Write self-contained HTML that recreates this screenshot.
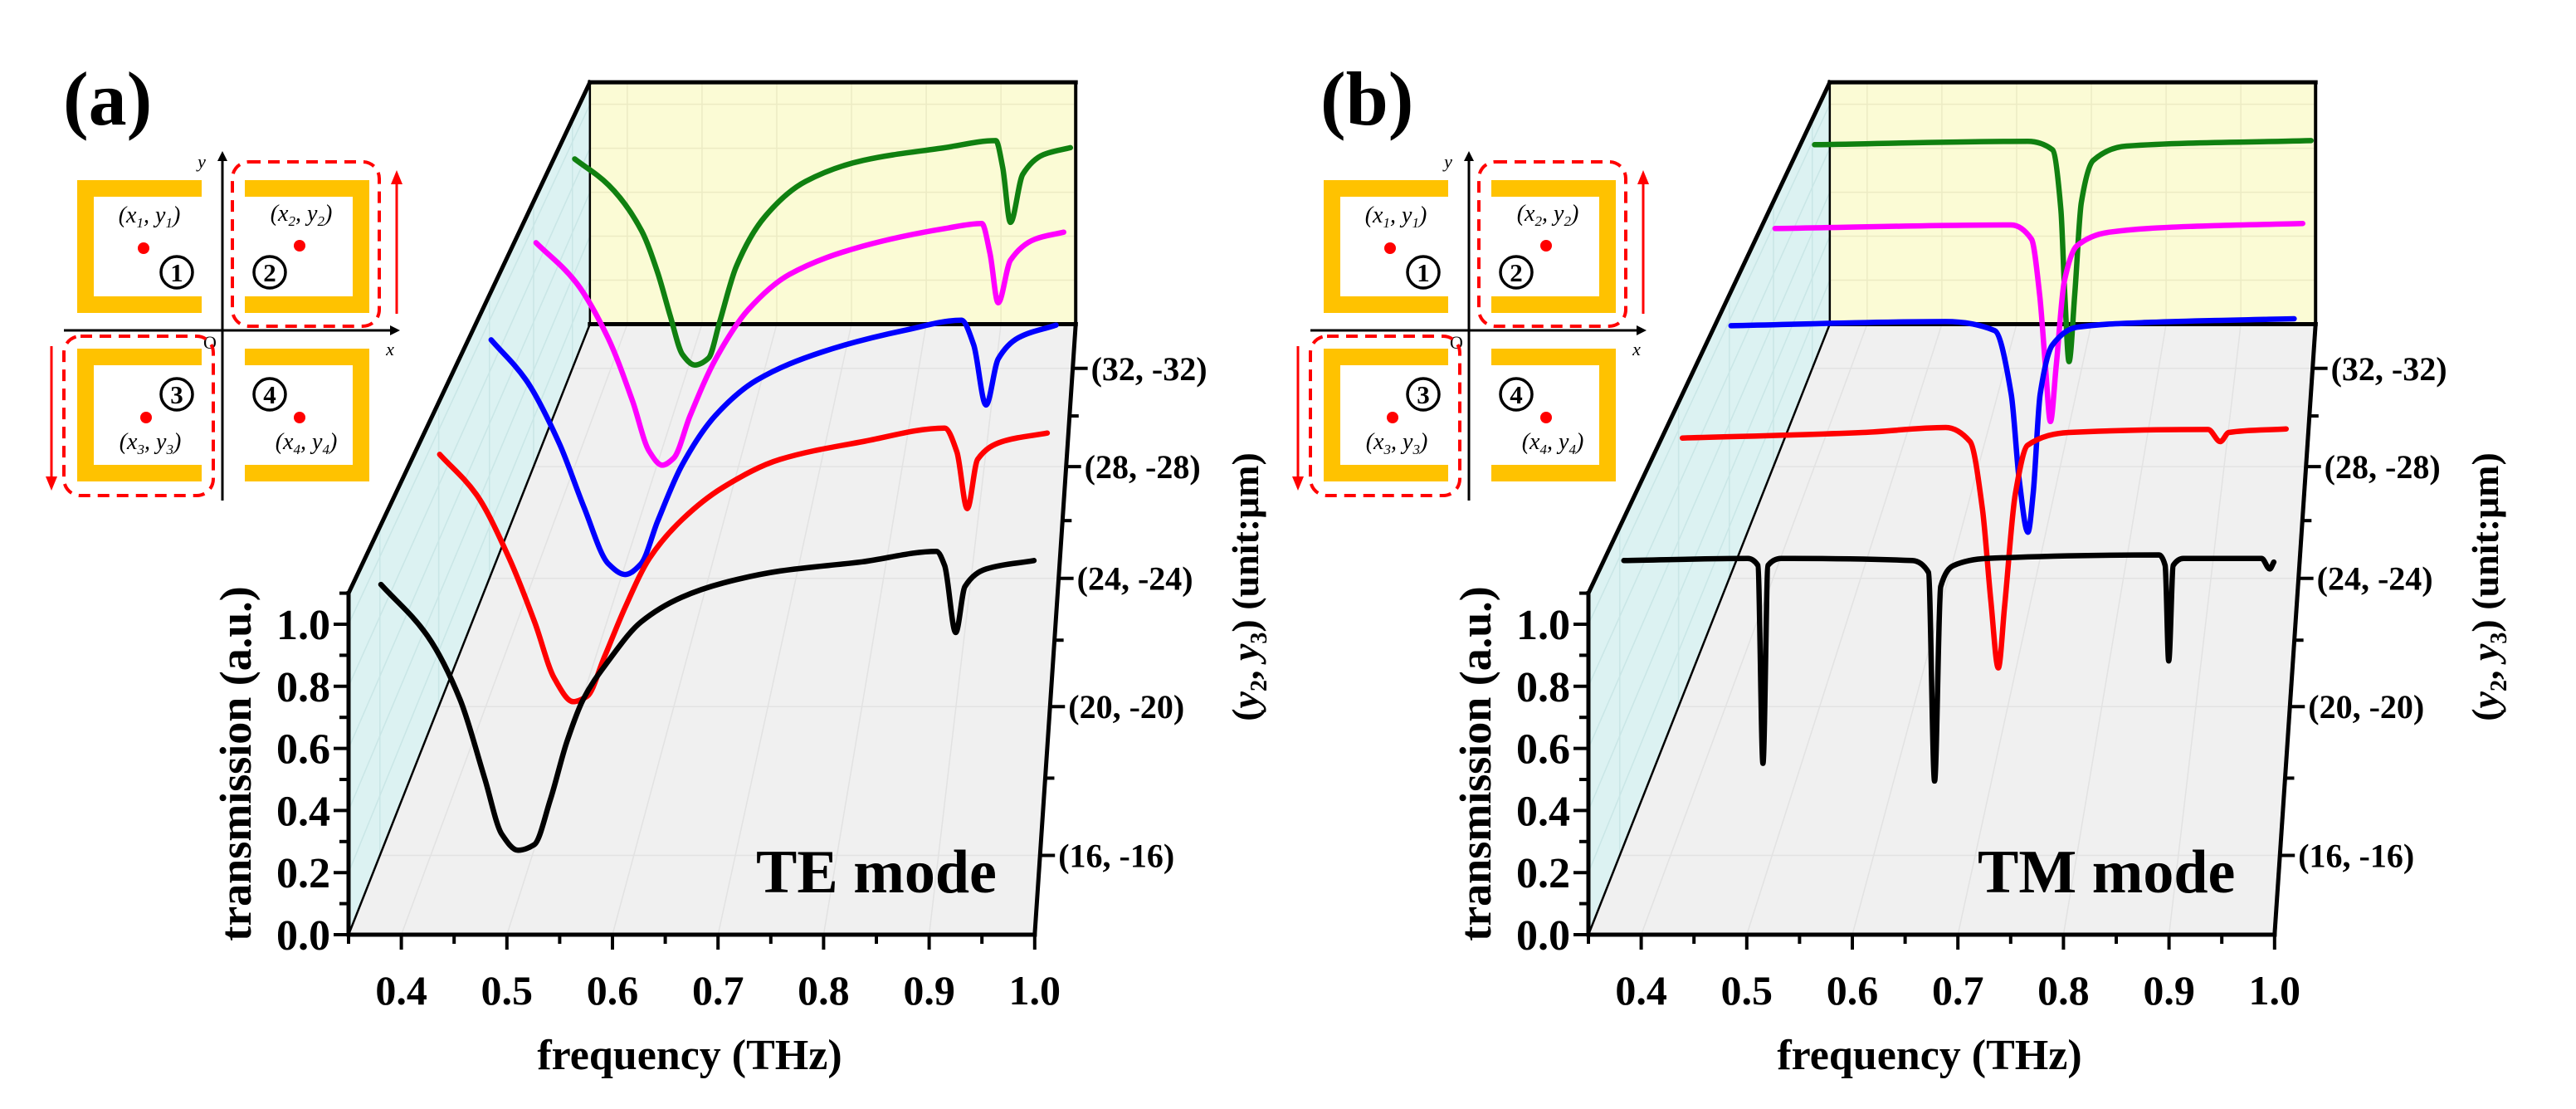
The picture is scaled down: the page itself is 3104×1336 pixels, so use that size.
<!DOCTYPE html>
<html>
<head>
<meta charset="utf-8">
<style>
html,body{margin:0;padding:0;background:#fff;}
svg{display:block;}
text{font-family:"Liberation Serif",serif;}
</style>
</head>
<body>
<svg id="fig" xmlns="http://www.w3.org/2000/svg" width="3104" height="1336" viewBox="0 0 3104 1336"></svg>
<script>
// ---------- data ----------
const depths = [16, 20, 24, 28, 32];
const depthLabels = ["(16, -16)", "(20, -20)", "(24, -24)", "(28, -28)", "(32, -32)"];
const freqTicks = [0.4, 0.5, 0.6, 0.7, 0.8, 0.9, 1.0];
const freqTickLabels = ["0.4", "0.5", "0.6", "0.7", "0.8", "0.9", "1.0"];
const transTicks = [0.0, 0.2, 0.4, 0.6, 0.8, 1.0];
const transTickLabels = ["0.0", "0.2", "0.4", "0.6", "0.8", "1.0"];

// TE mode (panel a)
const teBlackF = [0.351,0.397,0.429,0.453,0.470,0.486,0.502,0.518,0.534,0.550,0.575,0.607,0.647,0.688,0.744,0.825,0.898,0.906,0.917,0.926,0.947,0.994];
const teBlackT = [0.907,0.734,0.521,0.260,0.071,0.017,0.036,0.189,0.379,0.521,0.651,0.781,0.864,0.912,0.952,0.983,1.018,0.971,0.746,0.900,0.959,0.987];
const teRedF = [0.351,0.390,0.425,0.452,0.473,0.493,0.508,0.526,0.548,0.574,0.609,0.652,0.713,0.801,0.888,0.901,0.912,0.923,0.949,0.997];
const teRedT = [0.912,0.767,0.536,0.306,0.102,0.018,0.038,0.178,0.357,0.536,0.677,0.792,0.894,0.958,1.007,0.920,0.716,0.894,0.958,0.989];
const teBlueF = [0.352,0.392,0.430,0.458,0.486,0.505,0.523,0.542,0.570,0.608,0.655,0.730,0.823,0.889,0.903,0.917,0.931,0.954,0.997];
const teBlueT = [0.926,0.769,0.522,0.276,0.056,0.015,0.056,0.221,0.440,0.632,0.769,0.879,0.962,1.002,0.906,0.673,0.852,0.934,0.983];
const teMagentaF = [0.353,0.401,0.441,0.471,0.491,0.507,0.521,0.541,0.572,0.612,0.662,0.752,0.852,0.897,0.907,0.917,0.932,0.962,0.997];
const teMagentaT = [0.929,0.768,0.533,0.270,0.064,0.006,0.035,0.211,0.445,0.651,0.797,0.915,0.988,1.009,0.885,0.680,0.856,0.944,0.973];
const teGreenF = [0.353,0.397,0.440,0.461,0.477,0.493,0.509,0.527,0.541,0.563,0.600,0.653,0.728,0.834,0.900,0.909,0.919,0.935,0.962,0.997];
const teGreenT = [0.925,0.810,0.607,0.420,0.233,0.061,0.015,0.046,0.202,0.451,0.670,0.826,0.919,0.975,1.006,0.888,0.645,0.857,0.944,0.975];

// TM mode (panel b)
const tmBlackF = [0.354,0.476,0.486,0.491,0.496,0.509,0.638,0.654,0.660,0.666,0.679,0.711,0.881,0.887,0.8905,0.895,0.905,0.982,0.990,0.994];
const tmBlackT = [0.987,0.994,0.971,0.308,0.971,0.994,0.987,0.947,0.249,0.900,0.971,0.994,1.006,0.971,0.651,0.971,0.994,0.994,0.959,0.982];
const tmRedF = [0.354,0.546,0.634,0.660,0.673,0.682,0.690,0.6965,0.708,0.721,0.765,0.913,0.926,0.935,0.996];
const tmRedT = [0.971,0.991,1.009,0.958,0.716,0.383,0.140,0.357,0.767,0.945,0.991,1.002,0.958,0.991,1.004];
const tmBlueF = [0.352,0.597,0.653,0.672,0.681,0.691,0.697,0.705,0.719,0.747,0.831,0.995];
const tmBlueT = [0.981,0.997,0.962,0.714,0.385,0.179,0.330,0.714,0.906,0.975,0.994,1.008];
const tmMagentaF = [0.352,0.640,0.665,0.675,0.682,0.688,0.695,0.705,0.720,0.760,0.861,0.996];
const tmMagentaT = [0.988,1.003,0.944,0.710,0.416,0.187,0.416,0.768,0.915,0.973,0.997,1.009];
const tmGreenF = [0.353,0.630,0.662,0.673,0.678,0.6835,0.691,0.6995,0.715,0.758,0.998];
const tmGreenT = [0.988,1.003,0.966,0.701,0.327,0.030,0.327,0.732,0.919,0.982,1.006];

// ---------- helpers ----------
const NS = "http://www.w3.org/2000/svg";
const svg = document.getElementById("fig");
function mk(tag, attrs, parent) {
  const el = document.createElementNS(NS, tag);
  for (const k in attrs) el.setAttribute(k, attrs[k]);
  (parent || svg).appendChild(el);
  return el;
}
const F0 = 0.35, F1 = 1.0, T1 = 1.1;
const D0 = 14.1, DK = 0.02075, BACK_S = 0.708;
const D1 = D0 + (1 / BACK_S - 1) / DK;

function makeProj(ox) {
  const vpx = 1416 + ox, vpy = -1393;
  return function (f, t, D) {
    const s = 1 / (1 + (D - D0) * DK);
    const X = 420 + ox + (f - F0) * 1272;
    const Y = 1126 - t * 374;
    return [vpx + s * (X - vpx), vpy + s * (Y - vpy)];
  };
}
// monotone cubic (Fritsch-Carlson) in screen x
function smoothPath(pts) {
  const n = pts.length;
  const dx = [], sl = [];
  for (let i = 0; i < n - 1; i++) {
    dx.push(pts[i + 1][0] - pts[i][0]);
    sl.push((pts[i + 1][1] - pts[i][1]) / (dx[i] || 1e-6));
  }
  const m = new Array(n);
  m[0] = sl[0]; m[n - 1] = sl[n - 2];
  for (let i = 1; i < n - 1; i++) {
    if (sl[i - 1] * sl[i] <= 0) m[i] = 0;
    else {
      const w1 = 2 * dx[i] + dx[i - 1], w2 = dx[i] + 2 * dx[i - 1];
      m[i] = (w1 + w2) / (w1 / sl[i - 1] + w2 / sl[i]);
    }
  }
  let d = "M" + pts[0][0].toFixed(1) + "," + pts[0][1].toFixed(1);
  for (let i = 0; i < n - 1; i++) {
    const h = dx[i] / 3;
    const c1 = [pts[i][0] + h, pts[i][1] + m[i] * h];
    const c2 = [pts[i + 1][0] - h, pts[i + 1][1] - m[i + 1] * h];
    d += " C" + c1[0].toFixed(1) + "," + c1[1].toFixed(1) + " " + c2[0].toFixed(1) + "," + c2[1].toFixed(1) + " " + pts[i + 1][0].toFixed(1) + "," + pts[i + 1][1].toFixed(1);
  }
  return d;
}
function line(g, a, b, w, col) {
  return mk("line", {x1: a[0], y1: a[1], x2: b[0], y2: b[1], stroke: col || "#000", "stroke-width": w, "stroke-linecap": "square"}, g);
}

function drawInset(g, ix) {
  const gold = "#ffc200";
  const ya = mk("line", {x1: 268 + ix, y1: 603, x2: 268 + ix, y2: 192, stroke: "#000", "stroke-width": 3}, g);
  
  
  mk("polygon", {points: `${262+ix},194 ${274+ix},194 ${268+ix},182`, fill: "#000"}, g);
  const xa = mk("line", {x1: 77 + ix, y1: 398, x2: 472 + ix, y2: 398, stroke: "#000", "stroke-width": 3}, g);
  
  
  mk("polygon", {points: `${470+ix},392 ${470+ix},404 ${482+ix},398`, fill: "#000"}, g);
  const lbls = [["y", 243, 202], ["x", 470, 428], ["O", 253, 420]];
  for (const l of lbls) {
    const t = mk("text", {x: l[1] + ix, y: l[2], "font-size": 22, "font-style": l[0] === "O" ? "normal" : "italic", "text-anchor": "middle"}, g);
    t.textContent = l[0];
    
    
  }
  const srrs = [
    [93, 243, 217, 377, "right"], [295, 445, 217, 377, "left"],
    [93, 243, 420, 580, "right"], [295, 445, 420, 580, "left"]
  ];
  srrs.forEach((r, i) => {
    const [x0, x1, y0, y1, open] = r;
    const h = 10;
    let pts;
    if (open === "right") pts = `${x1+ix},${y0+h} ${x0+h+ix},${y0+h} ${x0+h+ix},${y1-h} ${x1+ix},${y1-h}`;
    else pts = `${x0+ix},${y0+h} ${x1-h+ix},${y0+h} ${x1-h+ix},${y1-h} ${x0+ix},${y1-h}`;
    const p = mk("polyline", {points: pts, fill: "none", stroke: gold, "stroke-width": 20, "stroke-linejoin": "miter"}, g);
    
    
  });
  const dots = [[173, 299], [361, 296], [176, 503], [361, 503]];
  const nums = [[213, 328], [325, 328], [213, 475], [325, 475]];
  const coords = [[180, 268, "1"], [363, 266, "2"], [181, 541, "3"], [369, 541, "4"]];
  for (let i = 0; i < 4; i++) {
    const c = mk("circle", {cx: dots[i][0] + ix, cy: dots[i][1], r: 7, fill: "#f00"}, g);
    
    
    const n = mk("circle", {cx: nums[i][0] + ix, cy: nums[i][1], r: 19, fill: "#fff", stroke: "#000", "stroke-width": 3.5}, g);
    
    
    const nt = mk("text", {x: nums[i][0] + ix, y: nums[i][1] + 11, "font-size": 31, "font-weight": "bold", "text-anchor": "middle"}, g);
    nt.textContent = String(i + 1);
    
    
    const ct = mk("text", {x: coords[i][0] + ix, y: coords[i][1], "font-size": 28, "font-style": "italic", "text-anchor": "middle"}, g);
    ct.innerHTML = `(x<tspan font-size="17" dy="6">${coords[i][2]}</tspan><tspan dy="-6">, y</tspan><tspan font-size="17" dy="6">${coords[i][2]}</tspan><tspan dy="-6">)</tspan>`;
    
    
  }
  const boxes = [[280, 195, 177, 198], [77, 405, 180, 192]];
  boxes.forEach((b, i) => {
    const r = mk("rect", {x: b[0] + ix, y: b[1], width: b[2], height: b[3], rx: 20, fill: "none", stroke: "#f00", "stroke-width": 4, "stroke-dasharray": "14 9"}, g);
    
    
  });
  const au = mk("line", {x1: 478 + ix, y1: 378, x2: 478 + ix, y2: 218, stroke: "#f00", "stroke-width": 3}, g);
  
  
  mk("polygon", {points: `${471+ix},222 ${485+ix},222 ${478+ix},205`, fill: "#f00"}, g);
  const ad = mk("line", {x1: 62 + ix, y1: 417, x2: 62 + ix, y2: 578, stroke: "#f00", "stroke-width": 3}, g);
  
  
  mk("polygon", {points: `${55+ix},574 ${69+ix},574 ${62+ix},591`, fill: "#f00"}, g);
}

function drawPanel(cfg) {
  const ox = cfg.ox;
  const P = makeProj(ox);
  const g = mk("g", {});
  
  

  const floor = [P(F0,0,D0), P(F1,0,D0), P(F1,0,D1), P(F0,0,D1)];
  const left = [P(F0,0,D0), P(F0,T1,D0), P(F0,T1,D1), P(F0,0,D1)];
  const back = [P(F0,0,D1), P(F1,0,D1), P(F1,T1,D1), P(F0,T1,D1)];
  const pstr = a => a.map(p => p[0].toFixed(1) + "," + p[1].toFixed(1)).join(" ");
  const fl = mk("polygon", {points: pstr(floor), fill: "#f0f0f0"}, g);
  
  
  const lw = mk("polygon", {points: pstr(left), fill: "#dcf2f2"}, g);
  
  
  const bw = mk("polygon", {points: pstr(back), fill: "#fbfbd5"}, g);
  
  

  const gg = mk("g", {}, g);
  
  
  for (const f of freqTicks) {
    line(gg, P(f,0,D0), P(f,0,D1), 1.5, "#e2e2e2");
    line(gg, P(f,0,D1), P(f,T1,D1), 1.5, "#ecebc4");
  }
  for (const D of depths) {
    line(gg, P(F0,0,D), P(F1,0,D), 1.5, "#e2e2e2");
    line(gg, P(F0,0,D), P(F0,T1,D), 1.5, "#c9e6e6");
  }
  for (const t of transTicks) {
    line(gg, P(F0,t,D0), P(F0,t,D1), 1.5, "#c9e6e6");
    line(gg, P(F0,t,D1), P(F1,t,D1), 1.5, "#ecebc4");
  }

  const eg = mk("g", {}, g);
  
  
  line(eg, P(F0,0,D0), P(F0,0,D1), 2.5);
  line(eg, P(F0,0,D1), P(F0,T1,D1), 2.5);
  line(eg, P(F0,T1,D0), P(F0,T1,D1), 5);
  line(eg, P(F0,T1,D1), P(F1,T1,D1), 5);
  line(eg, P(F1,0,D1), P(F1,T1,D1), 4);
  line(eg, P(F0,0,D1), P(F1,0,D1), 5);
  line(eg, P(F1,0,D0), P(F1,0,D1), 5);

  const yAxis = line(g, P(F0,0,D0), P(F0,T1,D0), 5);
  
  
  const xAxis = line(g, P(F0,0,D0), P(F1,0,D0), 5);
  
  

  for (let t = 0; t <= 1.1001; t += 0.1) {
    const p = P(F0, t, D0);
    const major = Math.round(t * 10) % 2 === 0;
    line(g, p, [p[0] - (major ? 16 : 9), p[1]], 4);
  }
  transTicks.forEach((t, i) => {
    const p = P(F0, t, D0);
    const tx = mk("text", {x: p[0] - 22, y: p[1] + 18, "font-size": 52, "font-weight": "bold", "text-anchor": "end"}, g);
    tx.textContent = transTickLabels[i];
    
    
  });
  for (let f = 0.35; f <= 1.0001; f += 0.05) {
    const p = P(f, 0, D0);
    const major = Math.abs(Math.round(f * 100) % 10) < 1;
    line(g, p, [p[0], p[1] + (major ? 16 : 9)], 4);
  }
  freqTicks.forEach((f, i) => {
    const p = P(f, 0, D0);
    const tx = mk("text", {x: p[0], y: p[1] + 84, "font-size": 50, "font-weight": "bold", "text-anchor": "middle"}, g);
    tx.textContent = freqTickLabels[i];
    
    
  });
  for (let D = 16; D <= 32; D += 2) {
    const p = P(F1, 0, D);
    const major = D % 4 === 0;
    line(g, p, [p[0] + (major ? 16 : 9), p[1]], 4);
  }
  depths.forEach((D, i) => {
    const p = P(F1, 0, D);
    const tx = mk("text", {x: p[0] + 22, y: p[1] + 14, "font-size": 40, "font-weight": "bold"}, g);
    tx.textContent = depthLabels[i];
    
    
  });

  const yt = mk("text", {x: 0, y: 0, "font-size": 54, "font-weight": "bold", "text-anchor": "middle", transform: `translate(${302 + ox},920) rotate(-90)`}, g);
  yt.textContent = "transmission (a.u.)";
  
  
  const xt = mk("text", {x: 831 + ox, y: 1288, "font-size": 52, "font-weight": "bold", "text-anchor": "middle"}, g);
  xt.textContent = "frequency (THz)";
  
  
  const dt = mk("text", {x: 0, y: 0, "font-size": 46, "font-weight": "bold", "text-anchor": "middle", transform: `translate(${1516 + ox},707) rotate(-90)`}, g);
  dt.innerHTML = '(<tspan font-style="italic">y</tspan><tspan font-size="28" dy="10">2</tspan><tspan dy="-10">, </tspan><tspan font-style="italic">y</tspan><tspan font-size="28" dy="10">3</tspan><tspan dy="-10">) (unit:μm)</tspan>';
  
  

  for (let i = cfg.series.length - 1; i >= 0; i--) {
    const s = cfg.series[i];
    const pts = s.f.map((f, j) => P(f, s.t[j], s.depth));
    const path = mk("path", {d: smoothPath(pts), fill: "none", stroke: s.color, "stroke-width": 6.5, "stroke-linejoin": "round", "stroke-linecap": "round"}, g);
    
    
  }

  const mt = mk("text", {x: cfg.modeX, y: 1075, "font-size": 74, "font-weight": "bold"}, g);
  mt.textContent = cfg.mode;
  
  
  const lt = mk("text", {x: cfg.letterX, y: 150, "font-size": 92, "font-weight": "bold"}, g);
  lt.textContent = cfg.letter;
  
  

  const ig = mk("g", {}, g);
  
  
  drawInset(ig, cfg.iox);
}

drawPanel({
  name: "panel-a-te", ox: 0, iox: 0, mode: "TE mode", modeX: 911, letter: "(a)", letterX: 76,
  series: [
    {name: "te-series-16", f: teBlackF, t: teBlackT, depth: depths[0], color: "#000000"},
    {name: "te-series-20", f: teRedF, t: teRedT, depth: depths[1], color: "#ff0000"},
    {name: "te-series-24", f: teBlueF, t: teBlueT, depth: depths[2], color: "#0000ff"},
    {name: "te-series-28", f: teMagentaF, t: teMagentaT, depth: depths[3], color: "#ff00ff"},
    {name: "te-series-32", f: teGreenF, t: teGreenT, depth: depths[4], color: "#108010"}
  ]
});
drawPanel({
  name: "panel-b-tm", ox: 1494, iox: 1502, mode: "TM mode", modeX: 2383, letter: "(b)", letterX: 1591,
  series: [
    {name: "tm-series-16", f: tmBlackF, t: tmBlackT, depth: depths[0], color: "#000000"},
    {name: "tm-series-20", f: tmRedF, t: tmRedT, depth: depths[1], color: "#ff0000"},
    {name: "tm-series-24", f: tmBlueF, t: tmBlueT, depth: depths[2], color: "#0000ff"},
    {name: "tm-series-28", f: tmMagentaF, t: tmMagentaT, depth: depths[3], color: "#ff00ff"},
    {name: "tm-series-32", f: tmGreenF, t: tmGreenT, depth: depths[4], color: "#108010"}
  ]
});
</script>
</body>
</html>
